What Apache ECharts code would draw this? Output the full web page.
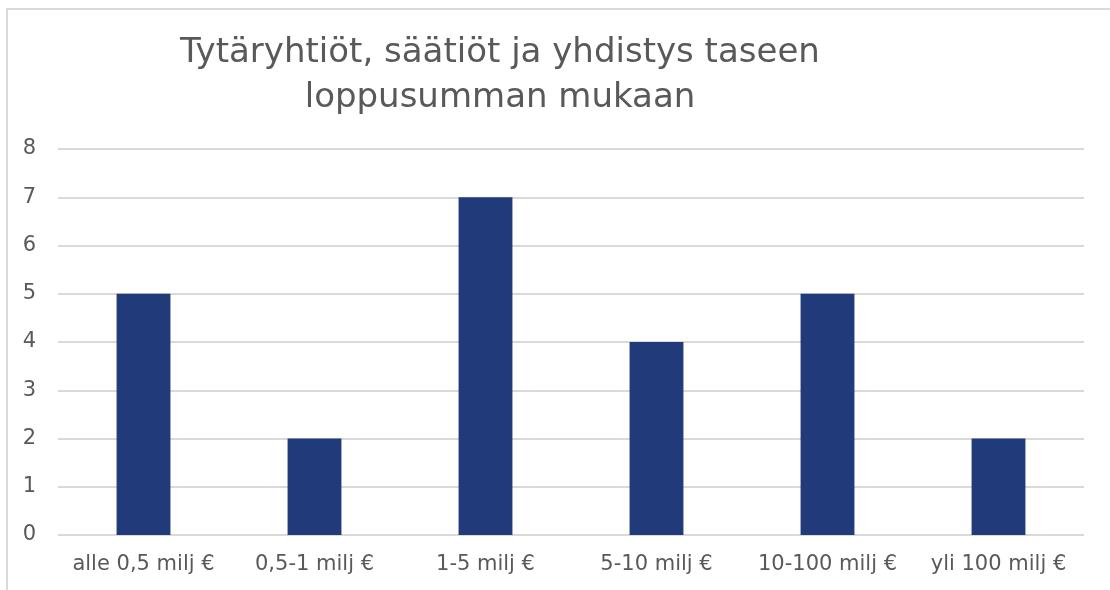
<!DOCTYPE html>
<html>
<head>
<meta charset="utf-8">
<script src="https://cdn.jsdelivr.net/npm/echarts@6/dist/echarts.min.js"></script>
<style>
  html, body { margin: 0; padding: 0; background: #fff; overflow: hidden; }
  #frame { position: absolute; left: 6px; top: 8px; width: 1200px; height: 700px;
           border-left: 2px solid #d9d9d9; border-top: 2px solid #d9d9d9; }
  #chart { position: absolute; left: 0; top: 0; width: 1110px; height: 590px; }
</style>
</head>
<body>
<div id="frame"></div>
<div id="chart"></div>
<script>
  // luokat ja arvot
  var categories = ["alle 0,5 milj €", "0,5-1 milj €", "1-5 milj €", "5-10 milj €", "10-100 milj €", "yli 100 milj €"];
  var values = [5, 2, 7, 4, 5, 2];
  var titleText = "Tytäryhtiöt, säätiöt ja yhdistys taseen\nloppusumman mukaan";

  var myChart = echarts.init(document.getElementById("chart"));

  var option = {
    animation: false,
    title: {
      text: titleText,
      left: 495,
      top: 26,
      textAlign: "center",
      textStyle: {
        fontFamily: "DejaVu Sans",
        fontWeight: "normal",
        fontSize: 34,
        color: "#595959",
        lineHeight: 45
      }
    },
    grid: {
      left: 58,
      right: 26,
      top: 149,
      bottom: 55
    },
    xAxis: {
      type: "category",
      data: categories,
      axisLine: { show: false },
      axisTick: { show: false },
      axisLabel: {
        interval: 0,
        margin: 19,
        fontFamily: "DejaVu Sans",
        fontSize: 21,
        color: "#595959"
      }
    },
    yAxis: {
      type: "value",
      min: 0,
      max: 8,
      interval: 1,
      axisLabel: {
        margin: 22,
        fontFamily: "DejaVu Sans",
        fontSize: 21,
        color: "#595959"
      },
      splitLine: { lineStyle: { color: "#d9d9d9", width: 2 } }
    },
    series: [{
      type: "bar",
      data: values,
      barWidth: "31.5%",
      itemStyle: { color: "#203a7a" }
    }]
  };

  myChart.setOption(option);
</script>
</body>
</html>
